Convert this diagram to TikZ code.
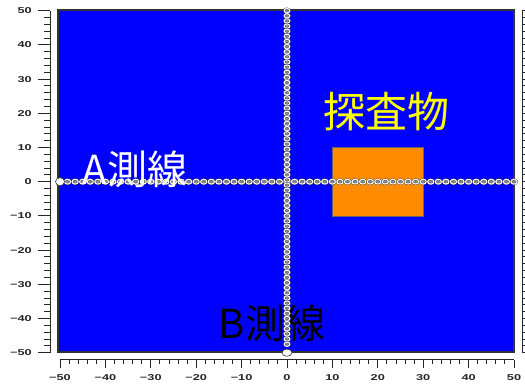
\documentclass[tikz,border=0pt]{standalone}
\usepackage{fontspec}
\setsansfont{Liberation Sans}
\newfontfamily\cjk{Noto Sans CJK JP}
\definecolor{fieldblue}{RGB}{0,0,255}
\definecolor{targetorange}{RGB}{255,140,0}
\definecolor{labelyellow}{RGB}{255,255,0}
\begin{document}
\begin{tikzpicture}[x=1pt,y=-1pt,
  ticklab/.style={font=\sffamily\bfseries\fontsize{8.5}{8.5}\selectfont, text=black!85, inner sep=0pt, xscale=1.5},
  axisline/.style={draw=black!85, line width=1pt},
  mk/.style={draw=black!80, double=white, double distance=1.1pt, line width=0.35pt, fill=black!45},
  bigmk/.style={draw=black!80, fill=white, line width=0.6pt},
  biglab/.style={font=\cjk\fontsize{40}{40}\selectfont, inner sep=0pt}]
\useasboundingbox (0,0) rectangle (525,387);
\fill[white] (0,0) rectangle (525,387);
% field
\draw[fill=fieldblue, draw=black!80, line width=1.2pt] (58,10) rectangle (514,352);
% axes
\draw[axisline] (50,10.7) -- (50,352.7);
\draw[axisline] (60,360) -- (514,360);
\draw[axisline] (522,10.7) -- (522,352.7);
\foreach \v in {-50,-48,...,50}{
  \pgfmathsetmacro{\py}{181.7-3.42*\v}
  \pgfmathsetmacro{\px}{287+4.54*\v}
  \draw[black!85, line width=0.9pt] (44,\py) -- (50,\py);
  \draw[black!85, line width=0.9pt] (522,\py) -- (527,\py);
  \draw[black!85, line width=0.9pt] (\px,360) -- (\px,364);
}
\foreach \v in {-50,-40,...,50}{
  \pgfmathsetmacro{\py}{181.7-3.42*\v}
  \pgfmathsetmacro{\px}{287+4.54*\v}
  \draw[black!85, line width=0.9pt] (38,\py) -- (50,\py);
  \draw[black!85, line width=0.9pt] (\px,360) -- (\px,368);
}
\foreach \v/\t in {-50/\textminus50,-40/\textminus40,-30/\textminus30,-20/\textminus20,-10/\textminus10,0/0,10/10,20/20,30/30,40/40,50/50}{
  \pgfmathsetmacro{\py}{181.7-3.42*\v}
  \pgfmathsetmacro{\px}{287+4.54*\v}
  \node[ticklab, anchor=east] (yl\v) at (32,\py) {\t};
  \node[ticklab] (xl\v) at (\px,378) {\t};
}
\begin{scope}[shift={(287,181.7)}, x=4.54pt, y=3.42pt]
  % target
  \draw[fill=targetorange, draw=black!60, line width=0.5pt] (10,-10) rectangle (30,10);
  % A line
  \foreach \i in {1,...,60}{
    \draw[mk] ({-50+\i*100/60},0) ellipse [x radius=3.1pt, y radius=2.4pt];
  }
  \draw[bigmk] (-50,0) ellipse [x radius=4.5pt, y radius=4pt];
\end{scope}
% B label under the B-line markers
\node[biglab, text=black] (labB) at (272,323) {B測線};
\begin{scope}[shift={(287,181.7)}, x=4.54pt, y=3.42pt]
  \foreach \i in {0,...,65}{
    \draw[mk] (0,{50-\i*1.5}) ellipse [x radius=2.8pt, y radius=2.2pt];
  }
  \draw[bigmk] (0,-50) ellipse [x radius=5pt, y radius=3.6pt];
\end{scope}
% labels
\node[biglab, text=white] (labA) at (135,169) {A測線};
\node[biglab, text=labelyellow, font=\cjk\fontsize{42}{42}\selectfont] (target) at (386,112) {探査物};
\end{tikzpicture}
\end{document}
